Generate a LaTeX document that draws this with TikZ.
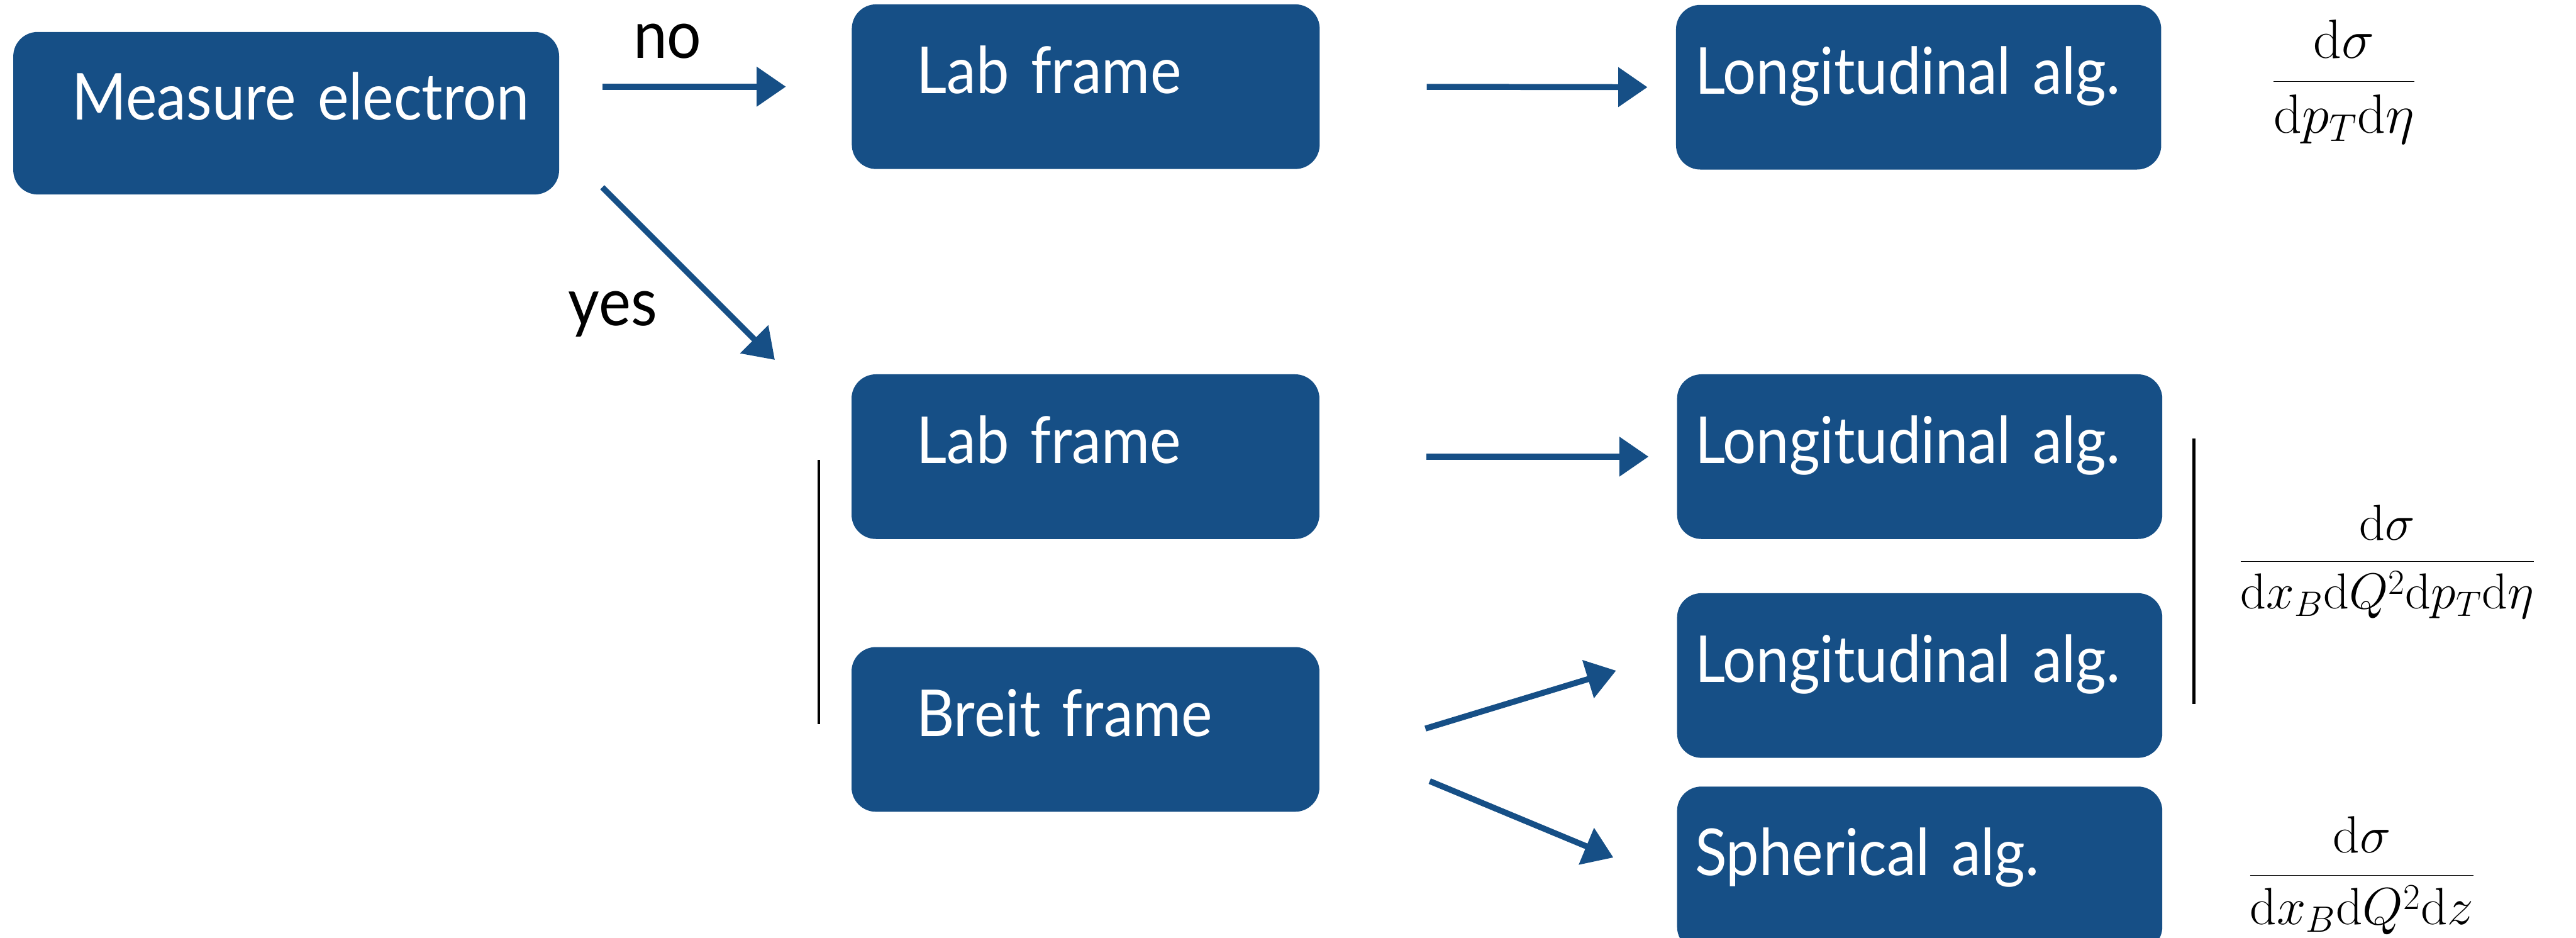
\RequirePackage{fix-cm}
\documentclass[tikz,border=0pt]{standalone}
\usepackage[no-math]{fontspec}
\setmainfont{Lato}[FakeStretch=0.91]
\usetikzlibrary{arrows.meta,calc}
\definecolor{boxblue}{RGB}{22,79,134}
\begin{document}
\begin{tikzpicture}[x=1cm,y=-1cm,
  stage/.style={fill=boxblue, draw=none, rounded corners=0.45cm, text=white,
    inner sep=0pt, align=left, font=\fontsize{34}{41}\selectfont,
    text height=0.7165em, text depth=0pt, minimum height=3.04cm},
  flow/.style={draw=boxblue, line width=0.11cm,
    -{Triangle[length=0.54cm,width=0.71cm]}},
  tag/.style={font=\fontsize{35}{42}\selectfont, inner sep=0pt, anchor=base west},
  rate/.style={inner sep=0pt, anchor=base},
  sep/.style={line width=0.056cm}]
\useasboundingbox (0,0) rectangle (47.57,17.31);
\clip (0,0) rectangle (47.57,17.31);

% decision and frame boxes
\node[stage, text width=10.08cm, minimum height=3.00cm] (me) at (5.285,2.09) {\hspace*{1.09cm}Measure electron};
\node[stage, text width=8.64cm] (lab1) at (20.05,1.60) {\hspace*{1.20cm}Lab frame};
\node[stage, text width=8.64cm] (lab2) at (20.045,8.43) {\hspace*{1.20cm}Lab frame};
\node[stage, text width=8.64cm] (brt) at (20.045,13.465) {\hspace*{1.20cm}Breit frame};

% algorithm boxes
\node[stage, text width=8.96cm] (lon1) at (35.43,1.61) {\hspace*{0.35cm}Longitudinal alg.};
\node[stage, text width=8.96cm] (lon2) at (35.45,8.43) {\hspace*{0.33cm}Longitudinal alg.};
\node[stage, text width=8.96cm] (lon3) at (35.45,12.47) {\hspace*{0.33cm}Longitudinal alg.};
\node[stage, text width=8.96cm] (sph) at (35.45,16.04) {\hspace*{0.33cm}Spherical alg.};

% branch labels
\node[tag] (no) at (11.69,1.07) {no};
\node[tag] (yes) at (10.49,6.01) {yes};

% cross sections (base anchor: fraction bar sits 0.25em above it)
\node[rate, font=\fontsize{29}{35}\selectfont] (f1) at (43.285,1.76)
  {$\displaystyle\frac{\mathrm{d}\sigma}{\mathrm{d}p_T\mathrm{d}\eta}$};
\node[rate, font=\fontsize{26.5}{32}\selectfont] (f2) at (44.085,10.60)
  {$\displaystyle\frac{\mathrm{d}\sigma}{\mathrm{d}x_B\mathrm{d}Q^2\mathrm{d}p_T\mathrm{d}\eta}$};
\node[rate, font=\fontsize{27.5}{33}\selectfont] (f3) at (43.615,16.40)
  {$\displaystyle\frac{\mathrm{d}\sigma}{\mathrm{d}x_B\mathrm{d}Q^2\mathrm{d}z}$};

% brackets
\draw[sep] (15.12,8.49) -- (15.12,13.37);
\draw[sep] (40.51,8.10) -- (40.51,12.99);

% arrows
\draw[flow, shorten <=0.79cm, shorten >=1.21cm] (me.east |- lab1.west) -- (lab1.west);
\draw[flow] ($(me.south east)+(0.79,-0.14)$) -- ($(lab2.north west)+(-1.41,-0.26)$);
\draw[flow, shorten <=1.97cm, shorten >=0.52cm] (lab1.east) -- (lon1.west);
\draw[flow, shorten <=1.97cm, shorten >=0.52cm] (lab2.east) -- (lab2.east -| lon2.west);
\draw[flow] ($(brt.east)+(1.95,-0.015)$) -- ($(lon3.west)+(-1.12,-0.09)$);
\draw[flow] ($(brt.east)+(2.03,0.955)$) -- ($(sph.west)+(-1.17,-0.21)$);
\end{tikzpicture}
\end{document}
